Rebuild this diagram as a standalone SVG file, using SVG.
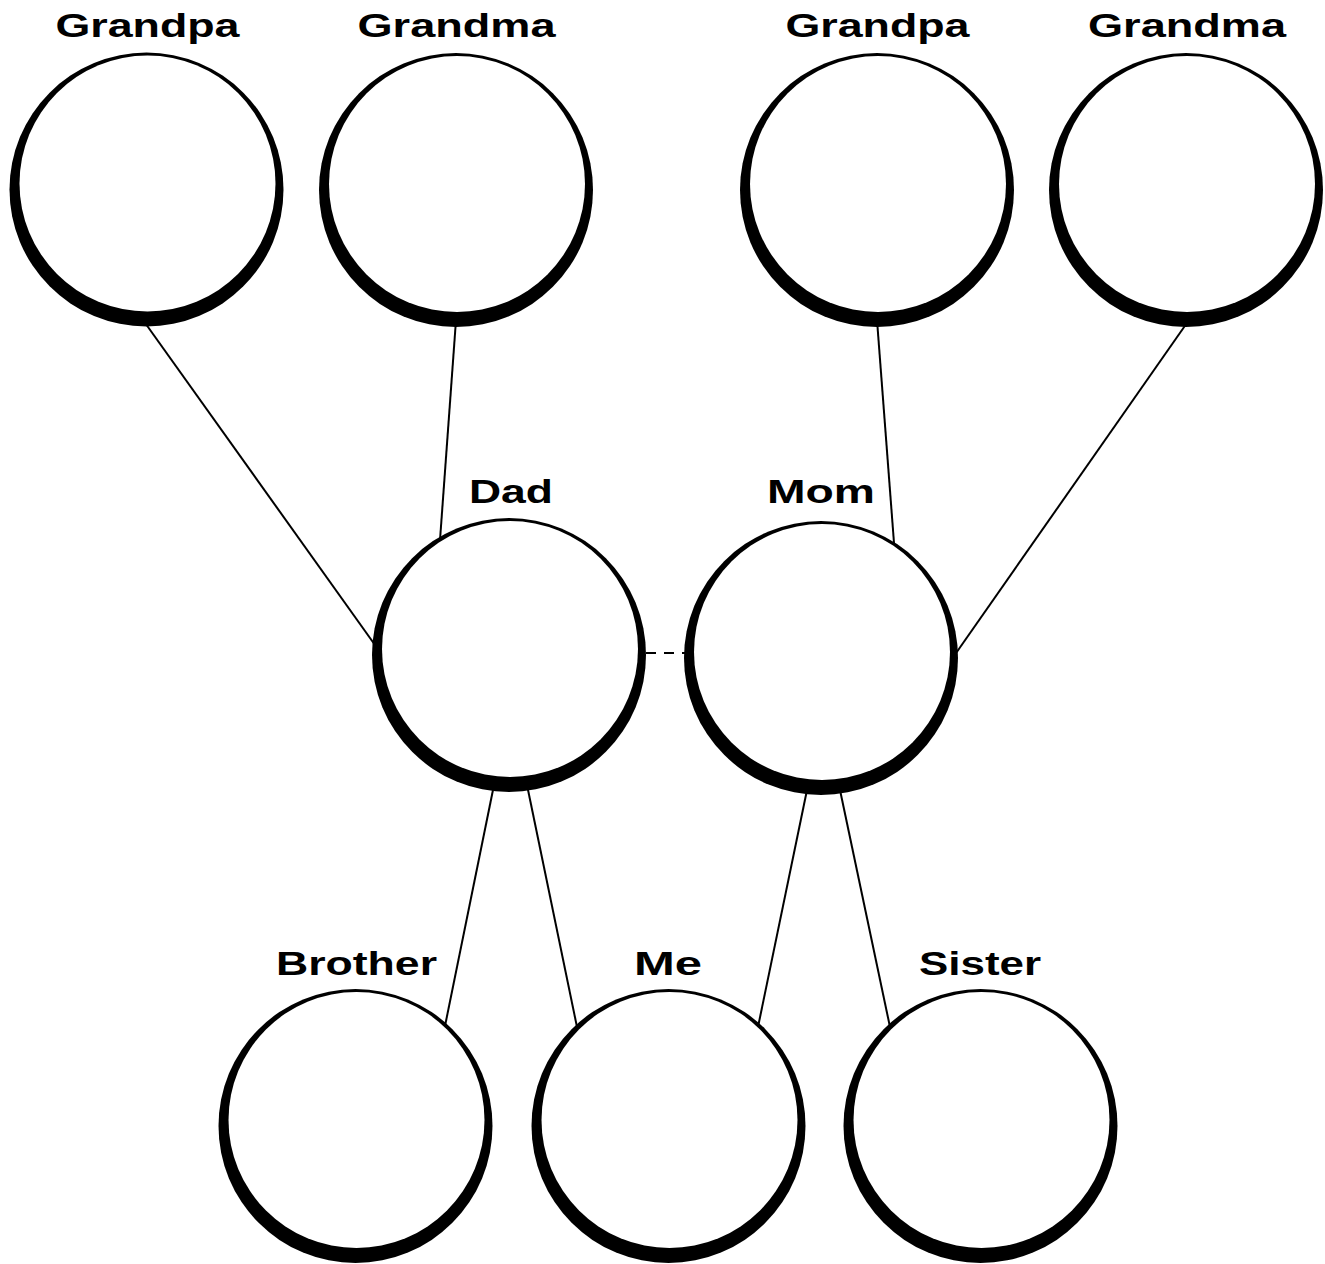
<svg xmlns="http://www.w3.org/2000/svg" width="1325" height="1264" viewBox="0 0 1325 1264">
<style>
.bg{fill:#fff}
.ring{fill:#000}
.hole{fill:#fff}
.lbl{font-family:"Liberation Sans",Arial,sans-serif;font-weight:bold;font-size:34px;fill:#000;text-anchor:middle}
.edge{stroke:#000;stroke-width:2;fill:none}
.dash{stroke:#000;stroke-width:2;fill:none;stroke-dasharray:10 8}
</style>
<defs>
<g id="node">
<circle class="ring" cx="0" cy="0" r="137"/>
<circle class="hole" cx="1" cy="-6" r="128"/>
</g>
</defs>
<rect class="bg" x="0" y="0" width="1325" height="1264"/>
<g id="connectors">
<line class="edge" x1="143" y1="320" x2="380" y2="652"/>
<line class="edge" x1="456" y1="320" x2="440" y2="540"/>
<line class="edge" x1="877" y1="320" x2="894" y2="543"/>
<line class="edge" x1="1189" y1="320" x2="954" y2="656"/>
<line class="edge" x1="494" y1="785" x2="445" y2="1026"/>
<line class="edge" x1="527" y1="785" x2="577" y2="1027"/>
<line class="edge" x1="807" y1="790" x2="758" y2="1027"/>
<line class="edge" x1="840" y1="790" x2="890" y2="1027"/>
<line class="dash" x1="646" y1="653" x2="685" y2="653"/>
</g>
<g id="grandpa-paternal">
<use href="#node" x="146.5" y="189.5"/>
<text class="lbl" x="147.5" y="37" textLength="184" lengthAdjust="spacingAndGlyphs">Grandpa</text>
</g>
<g id="grandma-paternal">
<use href="#node" x="456" y="190"/>
<text class="lbl" x="456.5" y="37" textLength="198" lengthAdjust="spacingAndGlyphs">Grandma</text>
</g>
<g id="grandpa-maternal">
<use href="#node" x="877" y="190"/>
<text class="lbl" x="877.5" y="37" textLength="184" lengthAdjust="spacingAndGlyphs">Grandpa</text>
</g>
<g id="grandma-maternal">
<use href="#node" x="1186" y="190"/>
<text class="lbl" x="1187" y="37" textLength="198" lengthAdjust="spacingAndGlyphs">Grandma</text>
</g>
<g id="dad">
<use href="#node" x="509" y="655"/>
<text class="lbl" x="511" y="503" textLength="84" lengthAdjust="spacingAndGlyphs">Dad</text>
</g>
<g id="mom">
<use href="#node" x="821" y="658"/>
<text class="lbl" x="821" y="503" textLength="108" lengthAdjust="spacingAndGlyphs">Mom</text>
</g>
<g id="brother">
<use href="#node" x="355.5" y="1126"/>
<text class="lbl" x="356.5" y="975" textLength="161" lengthAdjust="spacingAndGlyphs">Brother</text>
</g>
<g id="me">
<use href="#node" x="668.5" y="1126"/>
<text class="lbl" x="668" y="975" textLength="68" lengthAdjust="spacingAndGlyphs">Me</text>
</g>
<g id="sister">
<use href="#node" x="980.5" y="1126"/>
<text class="lbl" x="980" y="975" textLength="122" lengthAdjust="spacingAndGlyphs">Sister</text>
</g>
</svg>
